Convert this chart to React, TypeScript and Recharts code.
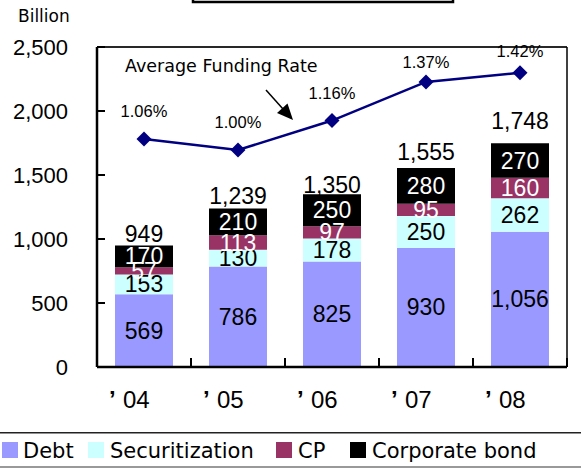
import React from 'react';
import {
  ComposedChart,
  Bar,
  Line,
  XAxis,
  YAxis,
  CartesianGrid,
  LabelList,
  Legend,
  Customized,
} from 'recharts';

// ---- data ----
const years = ['04', '05', '06', '07', '08'];
const debt = [569, 786, 825, 930, 1056];
const securitization = [153, 130, 178, 250, 262];
const cp = [57, 113, 97, 95, 160];
const corporateBond = [170, 210, 250, 280, 270];
const fundingRate = [1.06, 1.0, 1.16, 1.37, 1.42];
const yTicks = [0, 500, 1000, 1500, 2000, 2500];

const totals = years.map((_, i) => debt[i] + securitization[i] + cp[i] + corporateBond[i]);

const data = years.map((y, i) => ({
  year: y,
  debt: debt[i],
  sec: securitization[i],
  cp: cp[i],
  bond: corporateBond[i],
  total: totals[i],
  rate: fundingRate[i],
}));

// ---- styles ----
const C_DEBT = '#9999FF';
const C_SEC = '#CCFFFF';
const C_CP = '#993366';
const C_BOND = '#000000';
const C_LINE = '#000080';
const NUM_FONT = '"Liberation Sans", Arial, sans-serif';
const TXT_FONT = '"DejaVu Sans", sans-serif';
const RATE_LIFT = [28, 28, 28, 20, 22];
const TOTAL_LIFT = [12, 12, 9, 16, 22];

const fmt = (v: number) => v.toLocaleString('en-US');

const YTick = (props: any) => {
  const { x, y, payload } = props;
  return (
    <g>
      <text x={x - 29} y={y + 8} textAnchor="end" fontFamily={NUM_FONT} fontSize={22} fill="#000">
        {fmt(payload.value)}
      </text>
      <line x1={x} x2={x + 8} y1={y} y2={y} stroke="#000" strokeWidth={2} />
    </g>
  );
};

const XTick = (props: any) => {
  const { x, y, payload } = props;
  return (
    <g>
      <text y={y + 41} fontFamily={NUM_FONT} fontSize={24} fill="#000">
        <tspan x={x - 35} fontWeight="bold">’</tspan>
        <tspan x={x - 21}>{payload.value}</tspan>
      </text>
      <line x1={x + 47} x2={x + 47} y1={y} y2={y - 9} stroke="#000" strokeWidth={2} />
    </g>
  );
};

const segLabel = (color: string) => (props: any) => {
  const { x, y, width, height, value } = props;
  return (
    <text
      x={x + width / 2}
      y={y + height / 2 + 8}
      textAnchor="middle"
      fontFamily={NUM_FONT}
      fontSize={23}
      fill={color}
    >
      {fmt(value)}
    </text>
  );
};

const totalLabel = (props: any) => {
  const { x, y, width, value } = props;
  const i = totals.indexOf(value);
  const lift = TOTAL_LIFT[i] ?? 12;
  return (
    <text x={x + width / 2} y={y - lift + 8} textAnchor="middle" fontFamily={NUM_FONT} fontSize={23} fill="#000">
      {fmt(value)}
    </text>
  );
};

const rateLabel = (props: any) => {
  const { x, y, value } = props;
  const i = fundingRate.indexOf(value);
  const lift = RATE_LIFT[i] ?? 26;
  return (
    <text x={x} y={y - lift + 6} textAnchor="middle" fontFamily={NUM_FONT} fontSize={16.5} fill="#000">
      {value.toFixed(2)}%
    </text>
  );
};

const Diamond = (props: any) => {
  const { cx, cy } = props;
  if (cx == null || cy == null) return null;
  return (
    <polygon
      points={`${cx},${cy - 7.5} ${cx + 7.5},${cy} ${cx},${cy + 7.5} ${cx - 7.5},${cy}`}
      fill={C_LINE}
    />
  );
};

const legendItems = [
  { name: 'Debt', color: C_DEBT, sx: 2, tx: 23 },
  { name: 'Securitization', color: C_SEC, sx: 88, tx: 110 },
  { name: 'CP', color: C_CP, sx: 276, tx: 298 },
  { name: 'Corporate bond', color: C_BOND, sx: 350, tx: 372 },
];

const LegendContent = () => (
  <svg width={581} height={36} style={{ display: 'block' }}>
    <line x1={0} x2={581} y1={0.75} y2={0.75} stroke="#222" strokeWidth={1.5} />
    <line x1={0} x2={581} y1={35} y2={35} stroke="#999" strokeWidth={2} />
    {legendItems.map((it) => (
      <g key={it.name}>
        <rect x={it.sx} y={10} width={16} height={16} fill={it.color} />
        <text x={it.tx} y={26} fontFamily={TXT_FONT} fontSize={21} fill="#000">
          {it.name}
        </text>
      </g>
    ))}
  </svg>
);

const Decorations = () => (
  <g>
    <rect x={193} y={-20} width={260} height={22} fill="none" stroke="#000" strokeWidth={2.5} />
    <text x={18} y={22} fontFamily={TXT_FONT} fontSize={17} fill="#000">
      Billion
    </text>
    <line x1={97} x2={567} y1={47} y2={47} stroke="#000" strokeWidth={1.5} />
    <line x1={567} x2={567} y1={47} y2={367} stroke="#000" strokeWidth={1.5} />
    <text x={125} y={72} fontFamily={TXT_FONT} fontSize={17.5} fill="#000">
      Average Funding Rate
    </text>
    <line x1={266} y1={90} x2={283} y2={109} stroke="#000" strokeWidth={1.5} />
    <polygon points="293,120 277,113 287.5,103.5" fill="#000" />
  </g>
);

export default function App() {
  return (
    <div style={{ position: 'absolute', left: 0, top: 0, width: 581, height: 468, background: '#fff' }}>
      <ComposedChart
        width={581}
        height={468}
        data={data}
        margin={{ top: 47, right: 14, left: 0, bottom: 25 }}
      >
        <CartesianGrid vertical={false} stroke="#444" strokeWidth={1.2} />
        <XAxis
          dataKey="year"
          height={40}
          tickSize={0}
          tickMargin={0}
          tickLine={false}
          axisLine={{ stroke: '#000', strokeWidth: 2.5 }}
          tick={<XTick />}
          interval={0}
        />
        <YAxis
          yAxisId="left"
          width={97}
          domain={[0, 2500]}
          ticks={yTicks}
          tickSize={0}
          tickMargin={0}
          tickLine={false}
          axisLine={{ stroke: '#000', strokeWidth: 2.5 }}
          tick={<YTick />}
        />
        <YAxis yAxisId="right" orientation="right" hide domain={[-0.18, 1.56]} />
        <Legend
          content={<LegendContent />}
          wrapperStyle={{ position: 'absolute', left: 0, top: 432, bottom: 'auto', width: 581, height: 36 }}
        />
        <Bar yAxisId="left" dataKey="debt" name="Debt" stackId="a" fill={C_DEBT} barSize={58} isAnimationActive={false}>
          <LabelList dataKey="debt" content={segLabel('#000')} />
        </Bar>
        <Bar yAxisId="left" dataKey="sec" name="Securitization" stackId="a" fill={C_SEC} barSize={58} isAnimationActive={false}>
          <LabelList dataKey="sec" content={segLabel('#000')} />
        </Bar>
        <Bar yAxisId="left" dataKey="cp" name="CP" stackId="a" fill={C_CP} barSize={58} isAnimationActive={false}>
          <LabelList dataKey="cp" content={segLabel('#fff')} />
        </Bar>
        <Bar yAxisId="left" dataKey="bond" name="Corporate bond" stackId="a" fill={C_BOND} barSize={58} isAnimationActive={false}>
          <LabelList dataKey="bond" content={segLabel('#fff')} />
          <LabelList dataKey="total" content={totalLabel} />
        </Bar>
        <Line
          yAxisId="right"
          dataKey="rate"
          name="Average Funding Rate"
          stroke={C_LINE}
          strokeWidth={2.5}
          dot={<Diamond />}
          activeDot={false}
          isAnimationActive={false}
          legendType="none"
        >
          <LabelList dataKey="rate" content={rateLabel} />
        </Line>
        <Customized component={<Decorations />} />
      </ComposedChart>
    </div>
  );
}
